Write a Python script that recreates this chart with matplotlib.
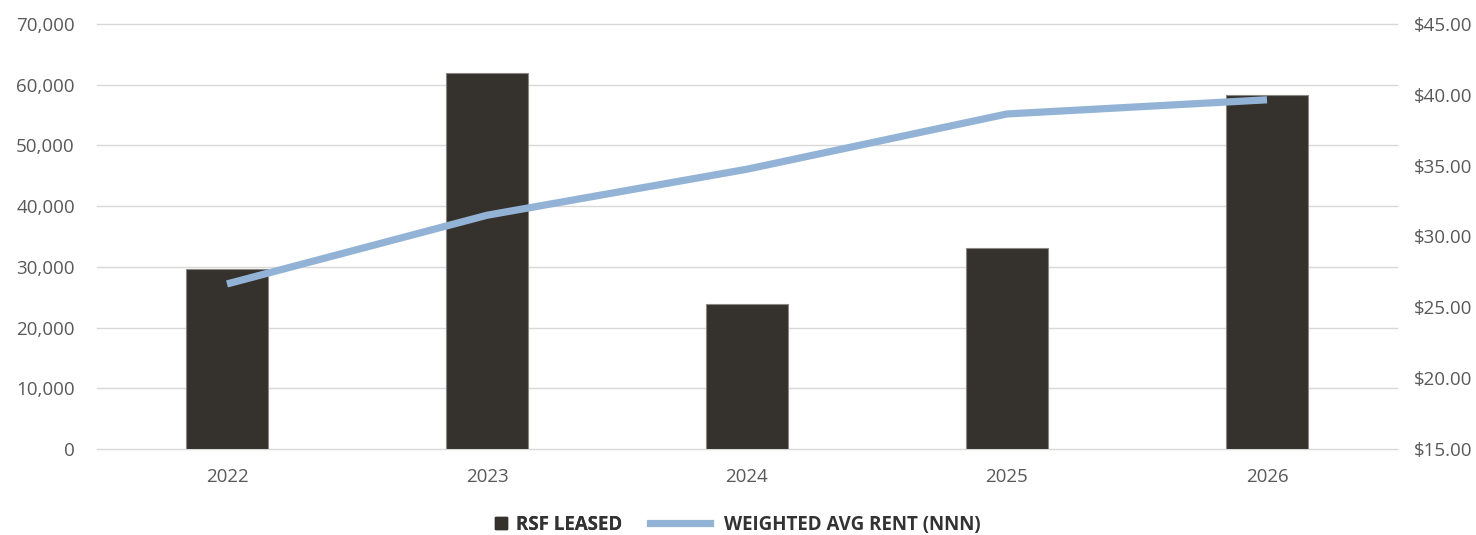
import matplotlib
matplotlib.use("Agg")
import matplotlib.pyplot as plt
from matplotlib.lines import Line2D
from matplotlib.ticker import FuncFormatter

years = ["2022", "2023", "2024", "2025", "2026"]
rsf_leased = [29700, 61900, 23900, 33100, 58300]
avg_rent = [26.65, 31.50, 34.75, 38.65, 39.65]

BAR_COLOR = "#35312c"
LINE_COLOR = "#93b3d6"
TEXT_COLOR = "#595959"
GRID_COLOR = "#d9d9d9"

plt.rcParams["font.family"] = ["Open Sans", "DejaVu Sans"]

fig = plt.figure(figsize=(14.76, 5.35), dpi=100)
ax = fig.add_axes([97 / 1476, 1 - 449 / 535, 1300 / 1476, 425 / 535])
ax2 = ax.twinx()

x = range(len(years))
ax.bar(x, rsf_leased, width=0.315, color=BAR_COLOR, edgecolor="#8a8782",
       linewidth=0.8, zorder=2)
ax2.plot(x, avg_rent, color=LINE_COLOR, linewidth=5.2, solid_capstyle="butt",
         zorder=3)

ax.set_xlim(-0.5, len(years) - 0.5)
ax.set_ylim(0, 70000)
ax.set_yticks(range(0, 70001, 10000))
ax.yaxis.set_major_formatter(FuncFormatter(lambda v, p: f"{v:,.0f}"))
ax2.set_ylim(15, 45)
ax2.set_yticks(range(15, 46, 5))
ax2.yaxis.set_major_formatter(FuncFormatter(lambda v, p: f"${v:,.2f}"))

ax.set_xticks(list(x))
ax.set_xticklabels(years)
ax.grid(axis="y", color=GRID_COLOR, linewidth=1.0, zorder=0)
for gl in ax.get_ygridlines():
    gl.set_clip_on(False)
ax.set_axisbelow(True)

for a in (ax, ax2):
    for s in a.spines.values():
        s.set_visible(False)
    a.tick_params(length=0, colors=TEXT_COLOR, labelsize=13.5)
ax.tick_params(axis="y", pad=16)
ax.tick_params(axis="x", pad=14)
ax2.tick_params(axis="y", pad=12)

# two legends so each handle keeps its own length
legend_y = 1 - 525 / 535
legend_font = {"weight": "bold", "size": 13.5}
leg1 = fig.legend(
    [Line2D([], [], color=BAR_COLOR, marker="s", linestyle="none", markersize=9)],
    ["RSF LEASED"], loc="center left", bbox_to_anchor=(494 / 1476, legend_y),
    frameon=False, handlelength=0.75, handletextpad=0.4, borderpad=0,
    borderaxespad=0, prop=legend_font, labelcolor="#333333")
fig.add_artist(leg1)
fig.legend(
    [Line2D([], [], color=LINE_COLOR, linewidth=5.2)],
    ["WEIGHTED AVG RENT (NNN)"], loc="center left",
    bbox_to_anchor=(650 / 1476, legend_y), frameon=False, handlelength=3.2,
    handletextpad=0.75, borderpad=0, borderaxespad=0, prop=legend_font,
    labelcolor="#333333")

fig.savefig("out.png", dpi=100)
